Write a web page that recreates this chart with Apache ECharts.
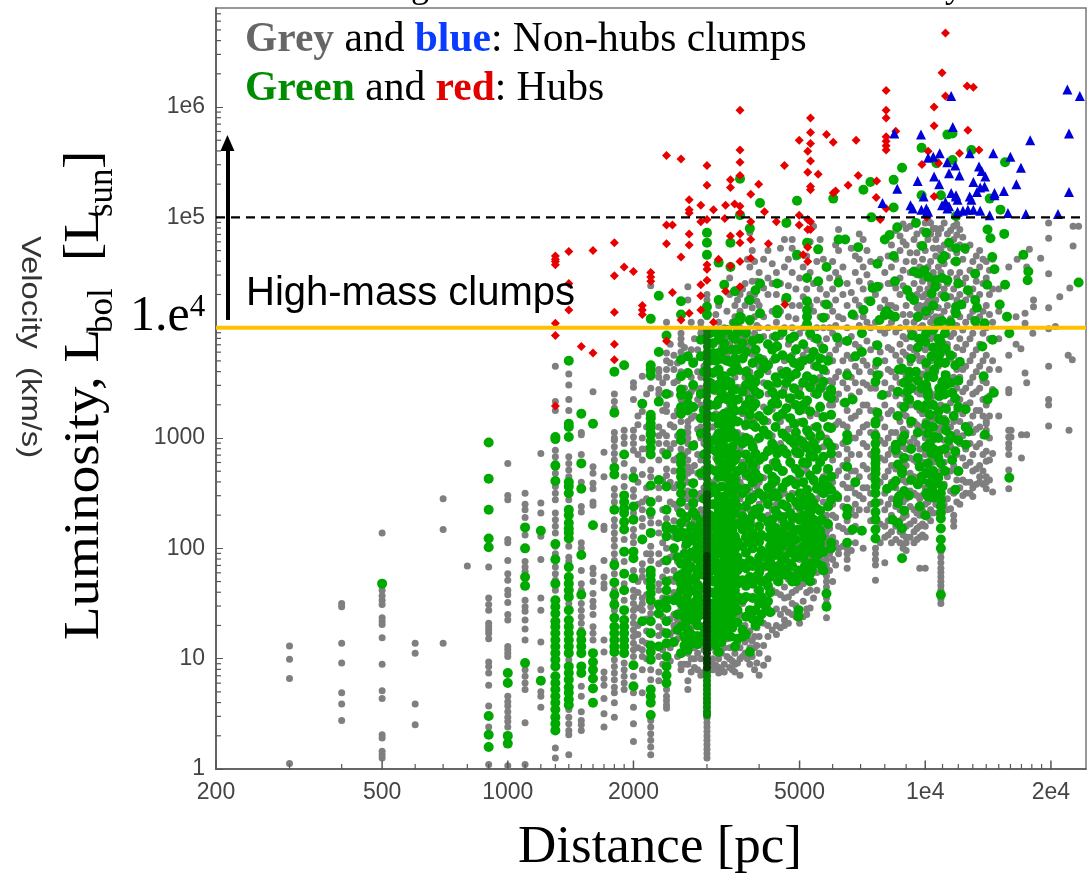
<!DOCTYPE html>
<html><head><meta charset="utf-8">
<style>html,body{margin:0;padding:0;background:#fff}#c{width:1088px;height:876px}</style>
<script src="https://cdn.jsdelivr.net/npm/echarts@6/dist/echarts.min.js"></script>
</head><body><div id="c"></div>
<script>
// Every row: [distance in pc, [log10 of luminosity, ...]]
const greyClumps = [
[300,[1.115,.995,.82,.05]],[400,[1.5,1.47,1.14,.96,.69,.59,.44]],
[500,[2.14,1.62,1.57,1.53,1.49,1.37,1.34,1.31,1.19,.95,.71,.64,.31,.28,.16,.13,.1]],
[600,[1.14,1.05,.59,.4]],[700,[2.45,2.17,1.14]],[800,[1.84]],
[900,[1.83,1.55,1.49,1.44,1.32,1.29,1.26,1.23,1.18,.97,.93,.87,.76,.57,.38,.04]],
[1000,[2.77,2.48,2.44,2.08,2.05,1.89,1.77,1.71,1.62,1.58,1.51,1.4,1.35,1.11,1.08,1.05,1.02,.66,.61,.57,.52,.47,.43,.38,.03]],
[1100,[2.5,2.4,2.35,2.28,2.12,1.88,1.83,1.79,1.73,1.53,1.47,1.43,1.35,1.27,1.17,.9,.84,.78,.72,.42,.04]],
[1200,[2.86,2.41,2.32,2.11,1.9,1.55,1.44,1.15,.9,.7,.66,.56]],
[1300,[3.65,3.33,3.25,2.89,2.83,2.77,2.68,2.56,2.5,2.44,2.32,2.26,2.2,2.14,2.02,1.95,1.83,1.77,1.71,1.62,.19,.1]],
[1400,[3.58,3.48,3.35,3.25,2.83,2.77,2.71,2.65,2.44,2.02,1.92,1.88,1.5,.99,.54,.47,.41,.35,.31,.13]],
[1500,[3.05,3.03,2.85,2.6,2.38,2.33,2.05,2,1.8,1.68,1.62,1.5,1.44,1.38,1.32,1.26,.75,.66,.52,.44,.4,.35]],
[1600,[3.42,2.74,2.68,2.59,2.54,2.42,2.39,1.82,1.77,1.7,1.59,1.52,1.47,1.4,1.29,1.23,1.17]],
[1700,[2.87,2.65,2.2,2.17,1.89,1.74,1.68,1.64,1.17,1.06,.88,.82,.76,.64,.5,.38]],
[1800,[3.4,3.33,3.27,3.05,3,2.98,2.92,2.86,2.8,2.54,2.48,2.42,2.35,2.26,2.2,2.14,2.08,2.02,1.95,1.89,1.83,1.77,1.7,1.62,1.53,1.44,1.38,1.3,1.22,1.14,.99,.93,.87,.81,.74,.69,.6,.47]],
[1900,[3.07,3.01,2.95,2.77,2.65,2.56,2.08,1.88,1.68,1.53,.96,.9,.84,.78,.72]],
[2000,[3.5,3.46,3.35,3.07,3.01,2.95,2.89,2.71,2.53,2.47,2.32,2.17,2.11,2.05,1.8,1.62,1.56,1.5,1.44,1.38,1.32,1.26,1.2,1.14,1.08,1.02,.84,.69,.56,.41,.25]],
[2100,[3.56,3.3,3.24,3,2.9,2.8,2.67,2.42,2.35,2.27,2.2,1.86,1.8,1.74,1.55,1.5,1.44,1.16,1.08,1.02,.9,.69]],
[2200,[4.38,3.55,3.45,2.71,2.65,2.29,2.23,2.02,1.95,1.89,1.47,1.41,.9,.81,.44,.38,.32,.26,.2,.13]],
[2300,[3.62,3.6,3.55,3.44,3.4,3.1,3.02,2.95,2.8,2.55,2.45,2.23,2.14,1.95,1.86,1.68,1.62,1.29,1.21,1.11,1.02,.88,.8]],
[2400,[4.05,3.77,3.7,3.62,3.55,3.3,3.24,3.02,2.95,2.72,2.66,2.27,2,1.8,.72,.66,.62,.58,.55]],
[2500,[3.75,3.62,3.5,3.2,3.1,2.95,2.8,2.7,2.55,2.4,2.25,2.1,1.95,1.8,1.7,1.6,1.4,1.3,1.25]],
[2600,[3.95,3.9,3.85,3.78,3.7,3.6,3.35,3.15,2.9,2.6,1.45,1.35,1.2,.95,.9]],
[2700,[4.37,4.25,3.3,3.25,3.15,3.1,3.05,3,2.95,2.88,2.8,2.74,2.68,2.6,2.52,2.45,2.38,2.3,2.22,2.15,2.05,1.95,1.85,1.75,1.65,1.55,1.45,1.35,1.25,1.15,1.05,.95,.8,.72]],
[2800,[3.9,3.7,3.45,3.2,2.95,2.75,2.6,2.5,2.4,2.25,2.1,1.9,1.7,1.5,1.4,1.3,1.2,1.1,1,.92]],
[2900,[4.05,4,3.95,3.55,3.45,3.3,3.1,3,2.8,2.65,2.5,2.35,2.2,2.05,1.9,1.75,1.6,1.45,1.3,1.15,1,.85]],
[3000,[4.3,4.25,4.1,.46,.42,.38,.34,.3,.26,.22,.18,.14,.1]],
[3100,[3.95,3.7,3.5,3.3,3.1,2.9,2.7,2.5,2.3,1.6,1.4,1.2,1,.95,.9]],
[3200,[4.2,4.05,3.95,3.7,3.5,3.3,3.2,2.9,2.75,2.55,2.4,1.95,1.6,1.15,1,.92,.87]],
[3300,[4,3.7,3.4,3.1,3,2.85,2.55,2.4,2.1,1.25,1.1,.95,.88]],
[3400,[4.45,4.3,3.95,3.85,3.6,3.3,3.15,3,2.7,2.5,2.3,1.1,1,.92]],
[3500,[4.2,4.1,3.95,3.8,3.55,3.35,3.15,2.95,2.7,2.55,2.35,1.4,1.05,.95,.88]],
[3600,[4.3,4.15,4,3.8,3.6,3.35,3.15,2.9,2.6,2.45,2.2,1.4,1.1,1,.85]],
[3700,[4.4,4.2,3.9,3.75,3.55,3.3,3.1,2.85,2.65,2.4,2.15,1.3,1.15,1.05]],
[3800,[4.86,4.55,4.3,4.05,3.85,3.6,3.45,3.25,3,2.75,2.55,2.35,1.25,1.1,.95]],
[3900,[4.6,4.3,4.1,3.95,3.7,3.5,3.3,3.1,2.9,2.65,2.5,2.3,1.55,1.2,1.1,.9]],
[4000,[4.5,4.2,4,3.9,3.65,3.4,3.2,3,2.8,2.6,2.4,1.6,1.35,1.2,1.05,.85]],
[4200,[4.7,4.45,4.3,4,3.85,3.6,3.4,3.15,2.9,2.7,2.5,2.3,1.9,1.75,1.45,1.3,1.2,1]],
[4400,[4.5,4.3,4.05,3.85,3.55,3.35,3.1,2.85,2.6,2.4,2.2,2,1.85,1.7,1.6,1.45,1.3,1.22]],
[4600,[4.8,4.55,4.25,4,3.7,3.45,3.2,2.9,2.7,2.5,2.3,2.1,1.95,1.8,1.65,1.55,1.45,1.35,1.3]],
[4800,[4.8,4.72,4.5,4.2,4,3.75,3.55,3.3,3,2.75,2.5,2.25,2.05,1.95,1.85,1.7,1.6,1.5,1.4]],
[5000,[4.45,4.2,3.95,3.7,3.45,3.15,2.9,2.6,2.35,2.15,2,1.9,1.65,1.45,1.32]],
[5200,[4.65,4.35,4.05,3.8,3.5,3.3,3.05,2.7,2.45,2.2,2,1.85,1.7,1.6,1.45,1.4]],
[5400,[4.92,4.4,4.15,3.9,3.65,3.4,3.1,2.9,2.6,2.35,2.1,1.95,1.85,1.7,1.55]],
[5600,[4.8,4.35,4.1,3.85,3.55,3.3,3.05,2.8,2.5,2.2,2.05,1.9]],
[5800,[4.3,4.1,3.9,3.6,3.4,3.2,3,2.7,2.5,2.3,2.25,2.2,2.15,2.1,2.05,2,1.95,1.9,1.85,1.8,1.75,1.7,1.65,1.6,1.55,1.5,1.37]],
[6000,[4.6,4.35,4.15,3.95,3.7,3.5,3.3,3.1,2.8,2.6,2.4,2.3,2.1,1.9,1.7]],
[6200,[4.89,4.7,4.45,4.1,3.85,3.6,3.4,3.15,2.85,2.7,2.45,2.2,2,1.95]],
[6500,[4.4,4.2,4,3.75,3.6,3.45,3.25,3.1,2.9,2.8,2.65,2.55,2.45,2.35,2.25,2.15,2,1.95,1.9,1.82]],
[6800,[4.65,4.5,4.25,4.1,3.85,3.65,3.5,3.2,3,2.7,2.5,2.4,2.3,2.2,2.05]],
[7100,[4.8,4.55,4.35,4.1,3.95,3.7,3.5,3.3,3.1,2.95,2.75,2.55,2.45,2]],
[7400,[4.6,4.4,4,3.8,3.6,3.45,3.25,3.05,2.85,2.65,2.5,2.4,2.25]],
[7600,[4.3,4.05,3.85,3.65,3.45,3.25,3.05,2.9,2.7,2.5,2.3,2.1,2,1.95,1.9,1.85,1.71]],
[8000,[4.5,4.25,4.1,3.95,3.7,3.5,3.3,3.1,2.95,2.8,2.65,2.5,2.35,2.2,2.1,1.87]],
[8300,[4.75,4.55,4.4,4.2,4.05,3.8,3.6,3.45,3.25,3.05,2.9,2.75,2.6,2.45,2.3,2.15,2.05]],
[8700,[4.83,4.7,4.45,4.3,4,3.85,3.7,3.5,3.3,3.15,3,2.85,2.7,2.5,2.35,2.25,2.15,2.05]],
[9000,[4.9,4.75,4.6,4.35,4.2,4.05,3.9,3.75,3.55,3.35,3.2,3.05,2.9,2.75,2.6,2.45,2.3,2.2,2.1,2.05,1.98]],
[9400,[4.8,4.6,4.4,4.25,4.05,3.95,3.8,3.6,3.45,3.3,3.15,3,2.8,2.65,2.5,2.35,2.25,2.15,2.05]],
[9700,[4.75,4.55,4.35,4.2,4.15,4.1,4,3.85,3.7,3.55,3.4,3.25,3.1,2.9,2.75,2.6,2.45,2.3,2.2,2.1,1.82]],
[10000,[4.95,4.7,4.5,4.3,4.2,4.15,4.1,3.95,3.8,3.65,3.5,3.3,3.15,3,2.85,2.7,2.55,2.4,2.3,2.2,2.1,1.82]],
[10300,[4.95,4.85,4.6,4.4,4.25,4.2,4.15,4.05,3.9,3.7,3.55,3.35,3.15,2.95,2.8,2.65,2.45,2.35,2.25]],
[10600,[4.9,4.8,4.65,4.45,4.25,4.1,4,3.8,3.6,3.4,3.2,3,2.8,2.6,2.5,2.4]],
[10900,[4.9,4.7,4.5,4.3,4.1,3.9,3.7,3.5,3.3,3.1,2.9,2.7,2.5,2.3,2.02,1.97,1.92,1.87,1.82,1.78,1.74,1.7,1.66,1.62,1.58,1.54,1.5]],
[11300,[4.85,4.65,4.4,4.2,4,3.85,3.7,3.5,3.25,3.05,2.85,2.65,2.45,2.35]],
[11700,[4.92,4.8,4.6,4.35,4.15,3.95,3.75,3.55,3.4,3.15,3,2.75,2.5,2.3,2.25,2.2]],
[12100,[4.89,4.75,4.5,4.3,4.1,3.9,3.7,3.55,3.35,3.15,2.95,2.7,2.55,2.4]],
[12500,[4.7,4.45,4.25,4.05,3.85,3.65,3.45,3.3,3.1,2.9,2.75,2.6,2.5]],
[13000,[4.6,4.35,4.15,3.95,3.75,3.55,3.4,3.2,3.05,2.85,2.7,2.55,2.47]],
[13500,[4.7,4.55,4.3,4.1,3.85,3.65,3.45,3.25,3.1,2.95,2.75,2.65,2.6]],
[14000,[4.6,4.45,4.2,4,3.75,3.5,3.3,3.15,3.07,3.13,2.88,2.79,2.65,2.6,2.54]],
[14500,[4.62,4.35,4.05,3.7,3.44,3.41,2.86,2.51]],
[15000,[4.35,4.15,3.9,3.62,3.2]],[15850,[4.55,3.75,3.44,3.41,3.07,3.01,2.95,2.91,2.85,2.71,2.54]],
[16050,[3.07,3.01]],[16500,[4.1,3.85]],[16600,[4.62]],[16950,[3.81]],[17000,[3.03,2.82]],
[17340,[4.13,4.04,3.59]],[17500,[4.55,3.5,3.03]],[17760,[4.71]],[18100,[3.95]],[18170,[4.25,4.19]],
[18900,[4.63]],[19750,[4.95,4.81,4.49,4.18,3.99,3.65,3.35,3.3,3.11]],[20500,[4.01]],[21000,[4.28]],
[22000,[3.75]],[22100,[3.07]],[22200,[4.36]],[22500,[3.71]],[22600,[4.92,4.74]],[23300,[4.92]]
];
// Second reading of the crowded part of the grey cloud, between the columns above.
const greyClumpsCrowded = [
[3050,[3.85,3.6,3.2,2.95,2.6,1.35,1.1,.98]],[3150,[4.12,3.88,3.62,3.42,3.22,3.02,2.82,2.62,2.42,2.22,1.5,1.28,1.06,.94]],
[3250,[3.82,3.58,3.38,3.14,2.98,2.64,2.47,2.28,1.7,1.3,1.05,.9]],[3350,[4.15,3.92,3.75,3.5,3.25,3.05,2.78,2.62,2.46,2.2,1.18,1.02]],
[3450,[4.05,3.9,3.68,3.44,3.22,3.06,2.84,2.6,2.42,1.45,1.2,.98,.9]],[3550,[4.25,4.02,3.86,3.66,3.46,3.24,3.05,2.82,2.64,2.48,2.28,1.32,1.14,.96]],
[3650,[4.35,4.1,3.92,3.72,3.46,3.22,3.02,2.78,2.56,2.34,1.5,1.22,1.02]],[3750,[4.62,4.25,3.98,3.8,3.62,3.4,3.18,2.96,2.72,2.5,2.26,1.38,1.18,1]],
[3850,[4.7,4.42,4.18,3.9,3.76,3.54,3.36,3.16,2.96,2.7,2.44,2.22,1.4,1.16,1.02]],[3950,[4.42,4.24,4.02,3.8,3.58,3.38,3.18,2.98,2.74,2.56,2.36,1.62,1.28,1.12,.96]],
[4100,[4.62,4.36,4.1,3.92,3.72,3.5,3.28,3.08,2.84,2.64,2.44,1.82,1.55,1.32,1.12,.94]],[4300,[4.58,4.4,4.15,3.92,3.7,3.48,3.26,3.02,2.78,2.55,2.35,2.08,1.82,1.62,1.42,1.26]],
[4500,[4.72,4.4,4.15,3.92,3.62,3.4,3.15,2.95,2.72,2.48,2.26,2.05,1.9,1.75,1.58,1.4,1.28]],[4700,[4.62,4.38,4.1,3.85,3.6,3.35,3.08,2.84,2.6,2.38,2.15,2,1.88,1.72,1.56,1.42,1.32]],
[4900,[4.64,4.35,4.08,3.82,3.6,3.38,3.12,2.85,2.62,2.38,2.18,2.02,1.92,1.78,1.62,1.48,1.38]],[5100,[4.55,4.28,4,3.75,3.52,3.25,2.98,2.75,2.5,2.28,2.1,1.95,1.82,1.68,1.52,1.38]],
[5300,[4.78,4.5,4.2,3.92,3.7,3.45,3.2,2.95,2.66,2.4,2.18,2.05,1.9,1.75,1.62,1.46]],[5500,[4.6,4.25,4,3.75,3.5,3.22,2.98,2.7,2.45,2.25,2.02,1.92,1.78,1.62]],
[5700,[4.62,4.22,4,3.72,3.46,3.18,2.92,2.65,2.42,2.12,1.98,1.84]],[5900,[4.45,4.2,4,3.75,3.52,3.3,3.08,2.85,2.62,2.38,2.18,1.95,1.8]],
[6100,[4.75,4.5,4.25,4.02,3.8,3.55,3.35,3.12,2.92,2.66,2.5,2.28,2.05,1.85]],[6350,[4.55,4.3,4.08,3.88,3.7,3.5,3.32,3.12,2.95,2.75,2.58,2.38,2.18,2.02]],
[6650,[4.72,4.32,4.12,3.92,3.72,3.55,3.38,3.18,3,2.85,2.7,2.55,2.35,2.15,1.98]],[6950,[4.85,4.62,4.42,4.2,4.02,3.82,3.6,3.42,3.24,3.05,2.85,2.65,2.48,2.35]],
[7250,[4.7,4.48,4.25,4.05,3.88,3.66,3.48,3.3,3.12,2.92,2.72,2.55,2.35]],[7800,[4.62,4.38,4.18,3.98,3.78,3.58,3.38,3.18,2.98,2.82,2.6,2.42,2.22,2.05]],
[8150,[4.65,4.4,4.2,4,3.82,3.62,3.4,3.22,3,2.85,2.7,2.55,2.4,2.25,2.12]],[8500,[4.88,4.62,4.36,4.18,3.96,3.75,3.55,3.38,3.2,3.05,2.85,2.72,2.55,2.38,2.2,2.08]],
[8850,[4.94,4.78,4.52,4.38,4.12,3.92,3.78,3.6,3.4,3.22,3.08,2.92,2.78,2.62,2.42,2.28,2.12,2]],[9200,[4.92,4.68,4.5,4.3,4.12,3.98,3.82,3.68,3.48,3.3,3.12,2.96,2.82,2.68,2.52,2.38,2.22,2.1]],
[9550,[4.85,4.68,4.48,4.3,4.18,4.08,3.9,3.75,3.58,3.42,3.28,3.12,2.95,2.78,2.62,2.48,2.32,2.18,2.08]],[9850,[4.88,4.62,4.42,4.28,4.18,4.12,4.02,3.88,3.72,3.58,3.4,3.22,3.05,2.9,2.78,2.62,2.48,2.34,2.22,2.12]],
[10150,[4.98,4.8,4.55,4.35,4.24,4.18,4.12,3.98,3.82,3.62,3.46,3.25,3.08,2.9,2.75,2.6,2.42,2.28]],[10450,[4.9,4.72,4.5,4.35,4.22,4.08,3.92,3.75,3.55,3.38,3.18,2.98,2.78,2.62,2.45,2.32]],
[10750,[4.85,4.72,4.55,4.38,4.18,4.02,3.85,3.65,3.45,3.25,3.05,2.85,2.65,2.48,2.32]],[11100,[4.95,4.75,4.58,4.35,4.15,3.95,3.78,3.58,3.38,3.18,2.98,2.78,2.58,2.4]],
[11500,[4.88,4.72,4.5,4.28,4.08,3.92,3.72,3.52,3.32,3.1,2.92,2.7,2.52,2.36]],[11900,[4.94,4.84,4.68,4.45,4.25,4.02,3.82,3.62,3.45,3.25,3.05,2.85,2.62,2.42]],
[12300,[4.82,4.62,4.4,4.2,3.98,3.8,3.62,3.42,3.22,3.02,2.82,2.62,2.48]],[12800,[4.75,4.52,4.3,4.1,3.9,3.7,3.5,3.32,3.12,2.95,2.78,2.6,2.5]],
[13250,[4.65,4.42,4.22,4.02,3.8,3.6,3.42,3.25,3.08,2.92,2.72,2.58]],[13750,[4.62,4.4,4.15,3.95,3.7,3.52,3.35,3.2,3.02,2.85,2.7,2.58]],
[14250,[4.52,4.3,4.12,3.9,3.62,3.38,3.2,3,2.8,2.62]],[2050,[3.2,3.12,2.85,2.6,2.4,1.7,1.6,1.46,1.3,1.22,1.1]],[2150,[3.4,3.1,2.9,2.55,2.45,1.95,1.7,1.58,1.36,1.25,1.14,1]],
[2350,[3.5,3.25,3.05,2.88,2.62,2.35,2.05,1.88,1.74,1.55,1.38,1.25,1.08,.95]],[2450,[3.85,3.68,3.4,3.12,2.9,2.6,2.42,2.18,1.92,1.72,1.55,1.36,1.22,1.1,.98]],
[2550,[3.68,3.52,3.25,3.02,2.82,2.58,2.36,2.15,1.88,1.72,1.52,1.35,1.18,1.02]],[2650,[3.82,3.45,3.28,3.05,2.85,2.64,2.48,2.28,2.02,1.85,1.66,1.5,1.3,1.1,.95]],
[2750,[4.05,3.8,3.55,3.42,3.18,2.92,2.7,2.5,2.32,2.12,1.92,1.72,1.5,1.28,1.12,1,.88]],[2850,[3.8,3.6,3.35,3.08,2.85,2.68,2.45,2.28,2.02,1.82,1.62,1.42,1.22,1.05,.9]],[2950,[3.9,3.65,3.4,3.18,2.95,2.72,2.55,2.3,2.1,1.8,1.5,1.25,1.08,.88]]
];
const greenHubs = [
[500,[1.68]],[900,[2.96,2.63,2.35,2.09,2.01,.48,.31,.2]],[1000,[.87,.78,.3,.23]],[1100,[2.19,2,1.74,1.66,.96]],[1200,[2.16,.8]],
[1300,[3.01,2.99,2.75,2.61,2.04,1.9,1.68,1.53,1.47,1.41,1.34,1.29,1.23,1.17,1.11,1.05,.99,.93,.84,.78,.72,.66,.6,.54,.47,.41,.35]],
[1400,[3.7,3.13,3.1,3.01,2.6,2.56,2.5,2.35,2.3,2.23,2.18,2.14,2.09,1.83,1.74,1.68,1.62,1.56,1.44,1.35,1.29,1.23,1.17,1.11,1.05,.93,.87,.81,.74,.69,.63,.58]],
[1500,[3.22,2.77,2.54,1.94,1.58,1.23,1.17,1.11,1.05,.93,.87]],[1600,[3.13,2.21,1.05,.97,.9,.82,.73,.6]],
[1800,[3.6,3.23,2.73,2.67,2.35,1.85,1.69,1.58,1.49,1.37,1.29,1.23,1.17,1.11,1.06]],
[1900,[3.66,2.85,2.48,2.42,2.36,2.32,2.24,2.17,1.97,1.77,1.62,1.44,1.35,1.29,1.23,1.17,1.11,1.05]],
[2000,[2.64,2.38,2.26,1.97,1.91,1.73,.94,.75]],[2100,[3.31,2.08,1.34]],
[2200,[4.08,3.66,3.62,3.57,3.21,3.18,3.13,3.09,3.04,3.03,2.97,2.91,2.85,2.57,2.42,2.33,2.14,1.8,1.76,1.71,1.65,1.59,1.53,1.34,1.23,1.12,1.06,.99,.72,.66,.6,.49]],
[2300,[4.29,3.78,3.33,2.62,1.49,1.41,1.11]],
[2400,[3.93,3.4,2.85,2.56,2.35,2.2,2.18,2.11,1.89,1.7,1.62,1.53,1.46,1.34,1.23,1.14,1.02,.93,.85,.78]],
[2500,[2.17,2,1.53,1.15]],[2600,[4.24,4.12,3.71,3.56,3.44,3.39,3.28,3.22,3.04,2.98,2.83,2.77,2.7,2.65,2.57,2.5,2.42,2.32,2.23,2.15,1.86,1.76,1.68,1.62,1.5,1.29,1.05]],
[2700,[3.74,3.59,3.38,3.31,3.25,2.14,1.91,1.8,1.68,1.59,1.5,1.26,1.08]],[2780,[3.68,3.48,3.28,2.93,2.59,2.5,2.41,2.33,1.38]],
[2900,[3.89,3.74,3.4,3.18,3.04,2.68,2.24,2.08,1.95,1.85,1.53,1.2]],[3000,[4.86,4.77,4.66,4.19,4.12]],
[3100,[3.86,3.77,3.59,3.44,3.19,2.98,2.56]],[3200,[4.59,4.25,3.89,3.77,3.62,3.48,3.34,3.13,3.04,2.95,2.8,2.65,2.47,2.35,2.23,2.14,2.01,1.86,1.74,1.65,1.53,1.44,1.35,1.21,1.06]],
[3300,[4.39,3.86,3.8,3.56,3.47,3.22,3.07,2.92,2.77,2.65,2.47,2.32,2.2,2.17,2.05,1.92,1.8,1.68,1.56,1.44,1.32,1.21]],
[3415,[4.77,4.55,3.69,3.5,3.38,3.24,3.12,3.01,2.86,2.74,2.59,2.41,2.26,2.2,2.08,1.96,1.83,1.71,1.59,1.47,1.35,1.2]],
[3500,[4.33,4.04,3.9,3.72,3.68,3.44,3.25,3.03,2.8,2.62,2.44,2.32,2.11,1.99,1.86,1.74,1.62,1.5,1.11]],
[3600,[5.35,5.02,4.1,4.07]],[3650,[3.86,3.72,3.42,3.25,2.95,2.74,2.5,2.29,2.17,2.02,1.86,1.71,1.53,1.26,1.2]],
[3800,[4.9,4.25,4.07,3.54,3.35,3.21,2.97,2.8,2.65,2.44,2.26,2.2,2.05,1.89,1.74,1.44,1.06]],[3920,[4.34,3.8,3.51,3.42,3.31,3.1,2.86,2.68,2.35,2.11,1.86,1.74,1.44,1.3]],
[4020,[5.13,4.4,4.13]],[4100,[3.69,3.63,3.16,3.07,2.83,2.47]],[4150,[1.92,1.71,1.47]],
[4300,[3.8,3.42,3.31,2.95,2.65,2.59,2.47,2.26,2.14,2,1.82,1.77]],[4420,[4.4,4.16,4.13,3.83,3.5,3.31,3.19,2.86,2.74,2.47]],
[4650,[4.95,4.27,3.6,3.5,3.27,3.01,2.86,2.6,2.38,2.11,1.8]],[4850,[3.92,3.68,3.45,3.13,2.95]],
[4930,[5.15,4.66]],[4970,[2.17,1.98,1.8,1.74,1.44,1.38]],[5000,[3.65,3.39,3.25,2.98,2.86,2.68,2.5,2.38,2.26]],
[5210,[4.77,4.45,4.24,4.16,4.1,4.03,3.56,3.34,3.07,2.91,2.77,2.53,2.38,2.26]],[5300,[2.14,1.99,1.86,1.77,1.7]],
[5400,[3.78,3.53,2.95,2.83,2.62,2.41,2.26]],[5540,[4.71,4.42]],[5700,[4.09,3.81,3.62,3.51,3.19,2.83,2.62,2.5,1.97,1.8]],
[5800,[4.55,4.21,1.59,1.47]],[5950,[3.44,3.42,3.36,3.21,3.09,2.92,2.86,2.65,2.53,2.44,2.05,2]],
[6020,[5.17]],[6150,[3.91,2.47]],[6200,[4.41,4.8]],[6430,[4.8,3.32]],[6500,[3.88,3.57,3.03,2.98,2.74,2.36,2.3,2.05]],
[6700,[4.12,3.35,2.17]],[6800,[3.74,2.6]],[6908,[4.73]],[7050,[3.95,3.78,2.16]],[7110,[4.16,5.25]],[7390,[5.32,4.24]],
[7430,[5]],[7480,[4.36]],[7600,[3.51,3.15,3.13,3.02,2.95,2.88,2.82,2.77,2.72,2.68,2.62,2.56,2.5,2.41,2.33,2.26,2.17,2.09]],[7680,[4.58,4.37,3.69,3.84,3.57,3.23]],
[7770,[4.07]],[7900,[3.39]],[8000,[4.8,4.12]],[8070,[4.15]],[8100,[2.54]],[8215,[4.84,4.12]],[8350,[2.57,2.26]],[8400,[5.34,5.09,4.65]],
[8460,[4.42,4.1]],[8500,[2.94,2.89,2.61]],[8570,[4.91]],[8600,[3.42,3.2,2.76,2.44,2.41,2.23]],[8650,[3.62,2.47]],[8800,[5.45,3.63,2.97,2.71,2.68,2.18,1.91]],
[9050,[4.34,3.42]],[9150,[3.6,3.54,3.35,2.48]],[9220,[4.28]],[9300,[3.93]],[9400,[4.51,4.25]],[9500,[4.95,3.6]],[9700,[4.49,3.9,2.74,2.38]],
[9800,[5.2,5.63,3.45,2.65,2.62]],[9840,[4.74]],[9900,[3.27]],[9960,[4.52]],[10000,[3.87,2.3]],[10060,[4.86]],[10150,[3.42,3.38,3.04,2.77,2.47]],
[10160,[4.46,3.56]],[10250,[3.21,2.95,2.59]],[10350,[3.74,2.86]],[10360,[4.31]],[10400,[2.53]],[10500,[3.62,3.01]],[10570,[4.43,4.37]],[10640,[5.49]],[10700,[2.59]],
[10800,[3.75,3.45,3.38,3.17,2.88]],[10900,[5.2,3.87,3.83,2.77,2.5,2.44,2.38,2.32,2.27,2.18,2.08,2,1.58]],[10970,[4.62,4.45,4.06]],[11000,[3.51,2.56]],[11100,[4.65]],
[11200,[3.57,3.48,3.27,3.07,3.81]],[11300,[5.75,4.43]],[11400,[4.77,2.98]],[11600,[3.41,2.8]],[11620,[5.76,5.52]],[11700,[3.2]],[11800,[3.66,3.36,2.88,2.53]],
[11850,[5.01,4.72,4.6,4.19,4.13]],[12100,[3.69]],[12200,[4.21]],[12440,[4.72]],[12500,[3.26,2.94,3.1]],[12650,[4.34]],[12700,[3.06]],[12900,[5.61]],
[13170,[4.49,4.25,4.06]],[13300,[4.18]],[13700,[3.83]],[13800,[3.56]],[13870,[4.04]],[13900,[3.03]],[14070,[4.39]],[14100,[4.89,3.35]],[14270,[5.17]],
[14330,[4.81]],[14470,[4.64]],[14500,[3.89]],[14600,[3.41]],[14650,[4.53]],[15080,[4.21]],[15140,[5.07]],[15460,[4.85]],[15530,[5.5,4.39]],[15700,[4.1]],
[15900,[3.95,2.64]],[17180,[4.66]],[17590,[4.43]],[17660,[4.51]],[23300,[4.41]]
];
// Second reading of the crowded part of the green cloud, between the columns above.
const greenHubsCrowded = [
[2550,[2.1,1.92,1.74,1.56,1.4,1.26]],[2680,[2.28,2.04,1.86,1.7,1.55,1.34,1.16]],[2820,[2.3,2.12,1.98,1.74,1.52,1.34,1.2]],
[2650,[2.1,1.95,1.78,1.63,1.44,1.38,1.3,1.2,1.12]],[2750,[2.2,2.07,1.96,1.83,1.72,1.62,1.44,1.36,1.22,1.14]],[2850,[2.18,2.02,1.9,1.78,1.67,1.58,1.46,1.38,1.3,1.13]],
[2950,[3.6,3.25,2.85,2.45,2.15,2,1.88,1.76,1.64,1.5,1.4,1.28,1.15]],
[3050,[3.95,3.7,3.5,3.3,2.9,2.72,2.5,2.3,2.18,2.06,1.95,1.84,1.72,1.6,1.48,1.36,1.24]],
[3100,[2.4,2.22,2.1,2,1.9,1.8,1.7,1.6,1.5,1.4,1.3,1.22,1.14]],[3150,[3.96,3.7,3.3,2.88,2.7,2.52,2.28,2.18,2.06,1.94,1.82,1.7,1.58,1.46,1.27,1.12]],
[3250,[3.94,3.72,3.55,3.4,3.2,2.99,2.85,2.72,2.56,2.4,2.27,2.1,1.96,1.8,1.68,1.58,1.48,1.38,1.27,1.15]],
[3350,[3.98,3.7,3.52,3.35,3.15,3,2.85,2.7,2.55,2.38,2.25,2.1,1.98,1.86,1.74,1.62,1.5,1.38,1.26]],
[3450,[3.92,3.8,3.6,3.44,3.3,3.18,3.05,2.92,2.78,2.64,2.5,2.34,2.16,2.02,1.9,1.78,1.64,1.52,1.41,1.28]],
[3550,[3.96,3.8,3.62,3.35,3.15,2.98,2.85,2.7,2.55,2.38,2.22,2.06,1.92,1.8,1.68,1.56,1.44,1.33,1.18]],
[3720,[3.95,3.78,3.6,3.48,3.3,3.12,3,2.85,2.68,2.54,2.38,2.24,2.1,1.96,1.82,1.66,1.56,1.38,1.22]],
[3860,[3.88,3.68,3.46,3.28,3.12,2.92,2.75,2.6,2.46,2.3,2.14,2,1.84,1.68,1.55,1.36]],
[4000,[3.9,3.72,3.58,3.4,3.2,3,2.8,2.64,2.5,2.36,2.2,2.06,1.92,1.78,1.62,1.5,1.34]],
[4050,[2.28,2.12,1.98,1.84,1.7,1.56,1.4]],[4250,[2.18,2.02,1.88,1.74,1.6,1.42]],
[4200,[3.85,3.66,3.48,3.25,3.03,2.88,2.72,2.55,2.4,2.24,2.1,1.96,1.84,1.66,1.52]],
[4380,[3.92,3.72,3.55,3.38,3.1,2.9,2.78,2.62,2.5,2.34,2.18,2.06,1.94,1.78]],
[4450,[2.3,2.12,1.98,1.84,1.7]],[4600,[2.22,2.08,1.92,1.76]],[4800,[2.28,2.12,2,1.84,1.7]],
[4550,[3.96,3.75,3.58,3.4,3.22,3.04,2.9,2.7,2.55,2.4,2.28,2.15,2.02,1.9,1.82]],
[4750,[3.9,3.72,3.55,3.36,3.18,2.98,2.78,2.62,2.46,2.32,2.2,2.06,1.96,1.86,1.75]],
[4900,[3.8,3.58,3.3,3.05,2.88,2.72,2.58,2.42,2.28,2.08,1.92,1.7]],
[5100,[3.85,3.7,3.5,3.3,3.14,2.95,2.78,2.6,2.44,2.3,2.14,2.02,1.92,1.8]],
[5150,[2.2,2.08,1.96,1.84,1.74]],[5350,[2.24,2.1,1.96,1.8]],[5450,[2.16,2.02,1.88]],[5650,[2.26,2.1,1.96,1.84]],
[5300,[3.95,3.72,3.46,3.24,3.02,2.84,2.66,2.46,2.32,2.2,2.05]],
[5500,[3.9,3.65,3.4,3.1,2.9,2.72,2.54,2.36,2.2,2.08,1.94,1.86]],
[5600,[3.72,3.45,3.28,3.02,2.78,2.56,2.34,2.16,2.04]],
[5850,[3.7,3.38,3.1,2.96,2.72,2.56,2.38,2.22]],
[8900,[3.5,3.28,3.02,2.82,2.52,2.34]],[9250,[3.72,3.45,3.15,2.9,2.62]],[9600,[4.1,3.82,3.52,3.3,3.05,2.82,2.58]],
[10050,[4.15,3.95,3.68,3.48,3.3,3.12,2.92,2.68,2.5]],[10450,[4.2,3.98,3.82,3.55,3.3,3.1,2.9,2.7,2.62,2.46]],[10750,[4.05,3.9,3.68,3.24,3,2.82,2.64]],
[11150,[4.28,3.95,3.68,3.4,3.15,2.9,2.7]],[11500,[4.05,3.75,3.5,3.02]],[12000,[4.4,3.52,3.28,2.98,2.7]]
];
const redHubs = [
[1300,[4.65,4.62,4.6,4.57,4.04,3.93,3.29]],[1400,[4.69,4.4,4.16]],[1500,[3.83]],[1600,[4.7,3.77]],[1800,[4.77,4.47,4.14,3.85,3.71]],
[1900,[4.55]],[2000,[4.51]],[2100,[4.2,4.16,4.12]],[2200,[4.5,4.46,4.42]],[2400,[5.56,4.93,4.76,3.88]],[2480,[4.93,4.32]],[2600,[5.53,4.64,4.07]],
[2720,[5.16,5.07,5.04,4.85,4.75,4.13]],[2900,[5.11,4.96,4.39,4.29,4.16]],[3000,[5.47,5.29,4.98,4.57,4.53,4.43]],[3110,[5.07,4.05]],[3197,[4.62]],[3310,[4.99]],
[3324,[5.11,4.33]],[3415,[5.34,5.27,4.83,4.56]],[3494,[5.12]],[3600,[5.97,5.61,5.5,5.38,5.1,5.04,4.85,4.77,4.6,4.37]],[3820,[5.21,4.96,4.8,4.63]],
[3990,[5.3]],[4120,[5.05]],[4210,[4.76]],[4400,[4.96]],[4600,[5.47]],[4610,[4.21]],[4990,[5.7,5.02,4.93]],[5100,[4.66]],[5230,[5.6,5.41,4.98,4.89,4.73,4.6]],
[5310,[5.9,5.77,5.67,5.51,5.28,5.25,4.96,4.89]],[5540,[5.39]],[5800,[5.75]],[6020,[5.68,5.22]],[6100,[5.24]],[6535,[5.29]],[6830,[5.7]],[6908,[5.38]],
[7630,[5.18]],[7650,[5.33]],[7800,[4.98]],[8060,[6.15,5.97,5.9,5.73,5.69,5.65,5.61,5.08]],[8500,[5.78]],[9820,[5.48]],[10080,[5]],[10160,[5.6]],
[10500,[6,5.83,5.19]],[10760,[5.49]],[10970,[6.31]],[11180,[6.67,6.1]],[12080,[5.58]],[12600,[6.19]],[12650,[5.79]],[13040,[6.18]],[13450,[5.61]]
];
const blueClumps = [
[7900,[5.13]],[8430,[5.76]],[8570,[5.26]],[9220,[5.11]],[9330,[5.08]],[9590,[5.33]],[9770,[5.75]],[9790,[5.07]],[9910,[5.19]],[10060,[5.08,5.04]],[10160,[5.54,5.05]],
[10450,[5.55]],[10500,[5.37]],[10800,[5.3]],[10830,[5.58]],[10970,[5.11]],[11180,[5.14]],[11290,[5.5]],[11300,[5.08]],[11400,[5.4,5.1]],[11540,[6.1,5.22]],
[11640,[5.82]],[11800,[5.47]],[11850,[5.2,5.19]],[11950,[5.16,5.05]],[12080,[5.38]],[12310,[5.06]],[12650,[5.07]],[12780,[5.58,5.19]],[12900,[5.16]],
[13040,[5.32,5.07]],[13300,[5.23]],[13450,[5.46]],[13540,[5.27,5.06]],[13650,[5.42]],[13870,[5.28]],[13930,[5.37]],[14270,[5.02]],[14550,[5.58]],[14650,[5.22,5.2]],
[15430,[5.24]],[15780,[5.04]],[15990,[5.55]],[16530,[5.3]],[16950,[5.45]],[17420,[5.03]],[17840,[5.7]],[20800,[5.03]],[21900,[6.16]],[22100,[5.76,5.23]],[23460,[6.1]]
];
// The 3000 pc column, where many sources pile up and the picture turns dark.
const pile3000Upper = [3.98,3.93,3.88,3.83,3.78,3.73,3.68,3.63,3.58,3.53,3.48,3.43,3.38,3.33,3.28,3.23,3.18,3.13,3.08,3.03,2.98,2.93,2.88,2.83,2.78,2.73,2.68,2.63,2.58,2.53];
const pile3000Middle = [2.49,2.45,2.41,2.37,2.33,2.29,2.25,2.21,2.17,2.13,2.09,2.05,2.01,1.97];
const pile3000Core = [1.93,1.89,1.85,1.81,1.77,1.73,1.69,1.65,1.61,1.57,1.53,1.49,1.45,1.41,1.37,1.33,1.29,1.25,1.21,1.17,1.13,1.09,1.05,1,.96,.92];
const pile3000Lower = [.88,.84,.8,.76,.72,.68,.64,.6,.56,.52,.49];

const xRange = [200, 24270], yRange = [1, 7.9e6];
const massLine = 1e4, highLine = 1e5;
const arrowX = 213, arrowFrom = 11750, arrowTo = 473000;
const xTickValues = [200,500,1000,2000,5000,10000,20000];
const xTickLabels = ['200','500','1000','2000','5000','1e4','2e4'];
const xMinorTicks = [300,400,600,700,800,900,1100,1200,1300,1400,1500,1600,1700,1800,1900,3000,4000,6000,7000,8000,9000,11000,12000,13000,14000,15000,16000,17000,18000,19000];
const yTickLabels = {1:'1',10:'10',100:'100',1000:'1000',100000:'1e5',1000000:'1e6'};
const yMinorTicks = [2,3,4,5,6,7,8,9,20,30,40,50,60,70,80,90,200,300,400,500,600,700,800,900,2e3,3e3,4e3,5e3,6e3,7e3,8e3,9e3,2e4,3e4,4e4,5e4,6e4,7e4,8e4,9e4,2e5,3e5,4e5,5e5,6e5,7e5,8e5,9e5,2e6,3e6,4e6,5e6,6e6,7e6];

const pairs = rows => rows.flatMap(r => r[1].map(l => [r[0], Math.pow(10, l)]));
const column = (d, logs) => logs.map(l => [d, Math.pow(10, l)]);
const serif = '"Liberation Serif","Times New Roman",serif';
const sans = '"Liberation Sans",Arial,sans-serif';
const tickInk = '#444';
const scatter = (name, data, symbol, size, color, z) => ({name, type:'scatter', data, symbol, symbolSize:size, itemStyle:{color, opacity:1}, z, animation:false, silent:true, large:false});
const label = (text, x, y, font, extra) => ({type:'text', x, y, z:20, ...(extra||{}), style:{text, font, fill:'#000'}});
const up = {rotation:Math.PI/2, scaleX:1.1};

const chart = echarts.init(document.getElementById('c'), null, {renderer:'canvas'});
chart.setOption({
  animation:false, backgroundColor:'#fff',
  grid:{left:216, top:8, width:870, height:761, show:true, borderColor:'#777', borderWidth:1.5, backgroundColor:'#fff'},
  xAxis:{type:'log', logBase:10, min:xRange[0], max:xRange[1], splitLine:{show:false},
    axisLine:{show:true, lineStyle:{color:'#555', width:1.5}}, axisTick:{show:false}, axisLabel:{show:false}, minorTick:{show:false}},
  yAxis:{type:'log', logBase:10, min:yRange[0], max:yRange[1], splitLine:{show:false},
    axisLine:{show:true, lineStyle:{color:'#555', width:1.5}},
    axisTick:{show:true, inside:true, length:7, lineStyle:{color:'#555'}},
    axisLabel:{color:tickInk, fontFamily:sans, fontSize:23, margin:11, showMaxLabel:false,
      formatter:v => yTickLabels[Math.round(v)] || ''}},
  series:[
    scatter('Non-hub clumps', pairs(greyClumps).concat(pairs(greyClumpsCrowded)), 'circle', 7, '#7f7f7f', 2),
    scatter('Hubs', pairs(greenHubs).concat(pairs(greenHubsCrowded)), 'circle', 10, '#00a900', 3),
    scatter('Hubs 3000 pc', column(3000, pile3000Lower), 'circle', 8, '#008c00', 4),
    scatter('Hubs 3000 pc dense', column(3000, pile3000Upper), 'circle', 8, '#0a7f0a', 4),
    scatter('Hubs 3000 pc denser', column(3000, pile3000Middle), 'circle', 8, '#075a07', 4),
    scatter('Hubs 3000 pc densest', column(3000, pile3000Core), 'circle', 8, '#033a03', 4),
    scatter('High-mass hubs', pairs(redHubs), 'diamond', 9, '#e80000', 5),
    scatter('High-mass non-hubs', pairs(blueClumps), 'triangle', 10, '#0000d8', 6),
    {type:'line', name:'1e5 line', data:[[xRange[0],highLine],[xRange[1],highLine]], showSymbol:false, z:7, silent:true,
      lineStyle:{color:'#000', width:2.2, type:[9,6]}},
    {type:'line', name:'1e4 line', data:[[xRange[0],massLine],[xRange[1],massLine]], showSymbol:false, z:8, silent:true,
      lineStyle:{color:'#ffc000', width:4},
      markLine:{silent:true, animation:false, symbol:['none','triangle'], symbolSize:[14,16], label:{show:false},
        lineStyle:{color:'#000', width:4, type:'solid'},
        data:[[{coord:[arrowX,arrowFrom]},{coord:[arrowX,arrowTo]}]]}},
    {type:'scatter', name:'x ticks', data:xTickValues.map((v,i)=>({value:[v,yRange[0]], name:xTickLabels[i]})), symbol:'rect', symbolSize:[1.5,9], symbolOffset:[0,-4], z:9, silent:true,
      itemStyle:{color:'#555', opacity:1}, label:{show:true, position:'bottom', distance:12, formatter:'{b}', color:tickInk, fontFamily:sans, fontSize:23}},
    {type:'scatter', name:'x minor ticks', data:xMinorTicks.map(v=>[v,yRange[0]]), symbol:'rect', symbolSize:[1.2,5], symbolOffset:[0,-2.5], z:9, silent:true, itemStyle:{color:'#555', opacity:1}},
    {type:'scatter', name:'y minor ticks', data:yMinorTicks.map(v=>[xRange[0],v]), symbol:'rect', symbolSize:[5,1.2], symbolOffset:[2.5,0], z:9, silent:true, itemStyle:{color:'#555', opacity:1}}
  ],
  graphic:[
    {type:'text', x:245, y:19, z:20, style:{text:'{g|Grey} and {b|blue}: Non-hubs clumps', font:'41.5px '+serif, fill:'#000',
      rich:{g:{fontFamily:serif, fontSize:41.5, fontWeight:'bold', fill:'#666'}, b:{fontFamily:serif, fontSize:41.5, fontWeight:'bold', fill:'#0a3cff'}}}},
    {type:'text', x:245, y:68, z:20, style:{text:'{g|Green} and {r|red}: Hubs', font:'41.5px '+serif, fill:'#000',
      rich:{g:{fontFamily:serif, fontSize:41.5, fontWeight:'bold', fill:'#008c00'}, r:{fontFamily:serif, fontSize:41.5, fontWeight:'bold', fill:'#e00000'}}}},
    label('High-mass clumps', 246, 274, '40px '+sans),
    {type:'text', x:130, y:292, z:20, style:{text:'1.e{s|4}', font:'50px '+serif, fill:'#000', rich:{s:{fontFamily:serif, fontSize:31, verticalAlign:'top', fill:'#000'}}}},
    label('Distance [pc]', 518, 822, '53px '+serif),
    label('Luminosity, L', 60, 640, '50px '+serif, up),
    label('bol', 85, 333, '35px '+serif, {rotation:Math.PI/2}),
    label('[L', 60, 261, '50px '+serif, up),
    label('sun', 85, 217, '35px '+serif, {rotation:Math.PI/2}),
    label(']', 60, 169, '50px '+serif, up),
    {type:'text', x:44, y:236, rotation:-Math.PI/2, scaleX:1.17, z:20, style:{text:'Velocity  (km/s)', font:'28px '+sans, fill:'#333'}},
    label('g', 411, -30, '36px '+serif),
    label('y', 945, -30, '36px '+serif)
  ]
});
</script></body></html>
